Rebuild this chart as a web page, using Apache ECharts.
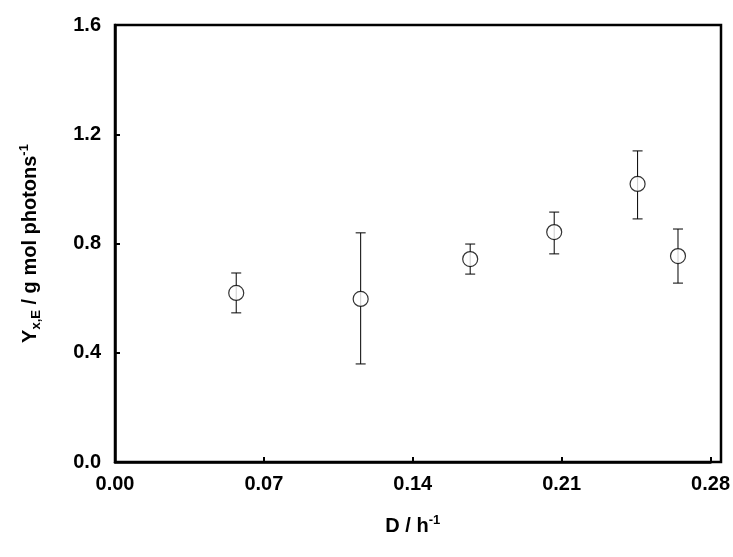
<!DOCTYPE html>
<html>
<head>
<meta charset="utf-8">
<script src="https://cdn.jsdelivr.net/npm/echarts@6/dist/echarts.min.js"></script>
</head>
<body style="margin:0">
<div id="main" style="width:733px;height:557px;"></div>
<script>
var dilution = [0.057, 0.1155, 0.167, 0.2065, 0.2457, 0.2647];
var yieldVal = [0.619, 0.597, 0.743, 0.842, 1.018, 0.754];
var errLow = [0.546, 0.359, 0.688, 0.762, 0.890, 0.655];
var errHigh = [0.692, 0.839, 0.798, 0.915, 1.139, 0.853];

var pts = dilution.map(function (d, i) { return [d, yieldVal[i]]; });
var errs = dilution.map(function (d, i) { return [d, errLow[i], errHigh[i]]; });
var font = 'Liberation Sans';

var chart = echarts.init(document.getElementById('main'));
chart.setOption({
  animation: false,
  grid: { left: 115, right: 12, top: 25, bottom: 95 },
  xAxis: {
    type: 'value', min: 0, max: 0.28, interval: 0.07,
    name: '{b|D / h}{s|-1}', nameLocation: 'middle', nameGap: 52,
    nameTextStyle: { rich: {
      b: { fontFamily: font, fontWeight: 'bold', fontSize: 20, color: '#000' },
      s: { fontFamily: font, fontWeight: 'bold', fontSize: 13, color: '#000', verticalAlign: 'top', padding: [0, 0, 12, 0] }
    } },
    axisLine: { lineStyle: { color: '#000', width: 2.5 } },
    axisTick: { inside: true, length: 5, lineStyle: { color: '#000', width: 2 } },
    splitLine: { show: false },
    axisLabel: { color: '#000', fontFamily: font, fontWeight: 'bold', fontSize: 20, margin: 12,
      formatter: function (v) { return v.toFixed(2); } }
  },
  yAxis: {
    type: 'value', min: 0, max: 1.6, interval: 0.4,
    name: '{b|Y}{sub|x,E}{b| / g mol photons}{s|-1}', nameLocation: 'middle', nameGap: 72, nameRotate: 90,
    nameTextStyle: { rich: {
      b: { fontFamily: font, fontWeight: 'bold', fontSize: 20, color: '#000' },
      sub: { fontFamily: font, fontWeight: 'bold', fontSize: 13, color: '#000', padding: [12, 0, 0, 0] },
      s: { fontFamily: font, fontWeight: 'bold', fontSize: 13, color: '#000', padding: [0, 0, 12, 0] }
    } },
    axisLine: { lineStyle: { color: '#000', width: 2.5 } },
    axisTick: { inside: true, length: 5, lineStyle: { color: '#000', width: 2 } },
    splitLine: { show: false },
    axisLabel: { color: '#000', fontFamily: font, fontWeight: 'bold', fontSize: 20, margin: 14,
      formatter: function (v) { return v.toFixed(1); } }
  },
  graphic: [{ type: 'rect', shape: { x: 115, y: 25, width: 606, height: 437 },
    style: { fill: 'none', stroke: '#000', lineWidth: 2.5 }, silent: true }],
  series: [{
    type: 'custom', data: errs,
    renderItem: function (params, api) {
      var lo = api.coord([api.value(0), api.value(1)]);
      var hi = api.coord([api.value(0), api.value(2)]);
      var w = 5, st = { stroke: '#000', lineWidth: 1 };
      return { type: 'group', children: [
        { type: 'line', shape: { x1: lo[0], y1: lo[1], x2: hi[0], y2: hi[1] }, style: st },
        { type: 'line', shape: { x1: lo[0] - w, y1: lo[1], x2: lo[0] + w, y2: lo[1] }, style: st },
        { type: 'line', shape: { x1: hi[0] - w, y1: hi[1], x2: hi[0] + w, y2: hi[1] }, style: st }
      ] };
    }
  }, {
    type: 'scatter', data: pts, symbol: 'circle', symbolSize: 15, z: 5,
    itemStyle: { color: '#fff', borderColor: '#000', borderWidth: 1.2 }
  }]
});
</script>
</body>
</html>
